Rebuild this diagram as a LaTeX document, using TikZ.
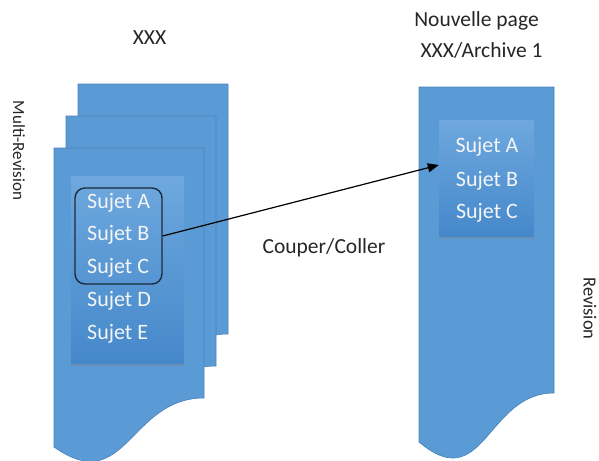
\documentclass[tikz,border=0pt]{standalone}
\usepackage{fontspec}
\setmainfont{Carlito}
\usetikzlibrary{arrows.meta,shadows}
\definecolor{pageblue}{HTML}{5B9BD5}
\definecolor{pageedge}{HTML}{4A80B8}
\definecolor{boxtop}{HTML}{6EA8DE}
\definecolor{boxbot}{HTML}{4588CA}
\definecolor{selline}{HTML}{1C2B3A}
\definecolor{labelgray}{HTML}{262626}
\begin{document}
\begin{tikzpicture}[x=1pt,y=-1pt,
  page/.style={fill=pageblue,draw=pageedge,line width=0.6pt},
  innerbox/.style={rectangle,top color=boxtop,bottom color=boxbot,inner sep=0pt,
    drop shadow={opacity=0.35,shadow xshift=0pt,shadow yshift=-3pt}},
  item/.style={text=white!96!black,font=\fontsize{22}{26}\selectfont,inner sep=0pt},
  lbl/.style={text=labelgray,font=\fontsize{21.5}{26}\selectfont,inner sep=0pt,anchor=base},
  selbox/.style={draw=selline,line width=1.4pt,rounded corners=10pt,inner sep=0pt},
  conn/.style={draw=black,line width=1.2pt,-{Triangle[length=11pt,width=9pt]}}]
\useasboundingbox (0,0) rectangle (599,460);
\clip (0,0) rectangle (599,460);
% left stack of pages
\foreach \dx/\dy in {24/-64,12/-32,0/0}{
  \begin{scope}[shift={(54+\dx,148+\dy)}]
    \path[page] (0,0) -- (150,0) -- (150,250)
      .. controls (75,250) and (72,350) .. (0,299) -- cycle;
  \end{scope}
}
% right page
\begin{scope}[shift={(419,87)}]
  \path[page] (0,0) -- (135,0) -- (135,306)
    .. controls (67.5,306) and (65,410) .. (0,355) -- cycle;
\end{scope}
% inner boxes
\node[innerbox,minimum width=113pt,minimum height=187pt] (lbox) at (127.5,269.5) {};
\node[innerbox,minimum width=95pt,minimum height=116pt] (rbox) at (486.5,178) {};
% items left
\node[item,anchor=base west] (la) at (87,208) {Sujet A};
\node[item,anchor=base west] (lb) at (87,240.5) {Sujet B};
\node[item,anchor=base west] (lc) at (87,273.5) {Sujet C};
\node[item,anchor=base west] (ld) at (87,306) {Sujet D};
\node[item,anchor=base west] (le) at (87,339) {Sujet E};
% selection
\node[selbox,minimum width=87pt,minimum height=96pt] (sel) at (118.5,236) {};
% items right
\node[item,anchor=base] (ra) at (487,152.5) {Sujet A};
\node[item,anchor=base] (rb) at (487,186) {Sujet B};
\node[item,anchor=base] (rc) at (487,218.5) {Sujet C};
% labels
\node[lbl] (xxx) at (149.5,45) {XXX};
\node[lbl] (np) at (476.5,27) {Nouvelle page};
\node[lbl] (arch) at (481.5,58) {XXX/Archive 1};
\node[lbl] (cc) at (324,253) {Couper/Coller};
\node[text=labelgray,font=\fontsize{17}{20}\selectfont,inner sep=0pt,rotate=-90] (mr) at (19,150.5) {Multi-Revision};
\node[text=labelgray,font=\fontsize{18.5}{22}\selectfont,inner sep=0pt,rotate=-90] (rev) at (590,308.5) {Revision};
% arrow
\draw[conn] (sel.east) -- ([yshift=13pt]rbox.west);
\end{tikzpicture}
\end{document}
